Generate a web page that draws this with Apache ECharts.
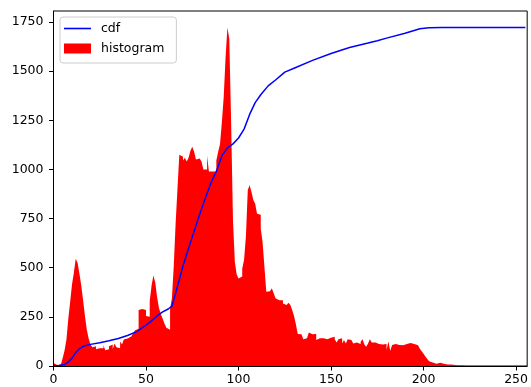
<!DOCTYPE html>
<html>
<head>
<meta charset="utf-8">
<script src="https://cdn.jsdelivr.net/npm/echarts@6/dist/echarts.min.js"></script>
<style>
  html, body { margin: 0; padding: 0; background: #fff; }
  #chart { width: 531px; height: 387px; }
</style>
</head>
<body>
<div id="chart"></div>
<script>
// pixel counts per grey level (bins 0..255)
const histogram = [
  15, 5, 3, 8, 18, 42, 80, 135, 240, 325,
  415, 475, 545, 525, 470, 410, 335, 255, 185, 140,
  110, 95, 100, 85, 90, 80, 90, 105, 80, 85,
  100, 110, 85, 115, 95, 90, 125, 110, 135, 140,
  130, 150, 160, 165, 180, 190, 285, 290, 280, 285,
  255, 250, 330, 410, 460, 425, 350, 295, 265, 240,
  215, 195, 185, 290, 345, 510, 725, 900, 1075, 1065,
  1045, 1060, 1040, 1060, 1095, 1115, 1090, 1050, 1055, 1065,
  1040, 1000, 1000, 1070, 990, 990, 985, 990, 1045, 1090,
  1130, 1240, 1370, 1570, 1722, 1665, 1240, 740, 530, 465,
  445, 455, 495, 540, 660, 895, 920, 885, 845, 825,
  775, 770, 700, 630, 505, 378, 380, 385, 395, 370,
  345, 335, 345, 335, 318, 310, 315, 322, 310, 285,
  254, 212, 163, 161, 158, 136, 141, 146, 170, 161,
  153, 163, 132, 141, 146, 141, 132, 136, 132, 144,
  153, 149, 136, 119, 136, 141, 115, 132, 115, 136,
  132, 136, 115, 120, 115, 112, 124, 136, 110, 98,
  115, 136, 120, 120, 115, 112, 112, 110, 102, 112,
  81, 125, 78, 107, 112, 112, 107, 107, 105, 107,
  112, 119, 117, 115, 112, 108, 105, 98, 88, 75,
  62, 48, 35, 24, 18, 16, 12, 14, 16, 19,
  12, 18, 8, 7, 7, 6, 5, 2, 2, 1,
  2, 8, 0, 0, 0, 0, 0, 0, 0, 0,
  0, 0, 0, 0, 0, 0, 0, 0, 0, 0,
  0, 0, 0, 0, 0, 0, 0, 0, 0, 0,
  0, 0, 0, 0, 0, 0
];

// normalised cdf, sampled along the blue line
const cdfX = [0, 3, 6, 8, 10, 12, 14, 16, 18, 20, 25, 30, 35, 40, 45, 48, 52, 56, 59, 62,
  64, 66, 68, 70, 75, 80, 85, 88, 91, 94, 97, 100, 103, 106, 109, 112, 116, 120, 125, 130,
  140, 150, 160, 170, 175, 180, 190, 198, 203, 210, 255];
const cdfY = [0, 2, 8, 20, 40, 68, 88, 100, 106, 110, 118, 128, 140, 155, 175, 195, 222, 255, 275, 290,
  305, 370, 440, 510, 658, 800, 930, 990, 1070, 1110, 1130, 1160, 1205, 1280, 1340, 1380, 1425, 1455, 1495, 1515,
  1555, 1590, 1620, 1643, 1655, 1668, 1693, 1716, 1721, 1722, 1722];

const xTicks = [0, 50, 100, 150, 200, 250];
const yTicks = [0, 250, 500, 750, 1000, 1250, 1500, 1750];

const font = 'DejaVu Sans';

// bins drawn as one stepped area: bin i covers [i, i+1]
const histData = histogram.map((v, i) => [i, v]);
histData.push([histogram.length, histogram[histogram.length - 1]]);

const chart = echarts.init(document.getElementById('chart'), null, { renderer: 'canvas' });

chart.setOption({
  animation: false,
  grid: {
    left: 53.5, top: 11, right: 1.5, bottom: 21,
    show: true, borderColor: '#000', borderWidth: 1,
  },
  legend: {
    data: [
      { name: 'cdf', icon: 'path://M0,0H27V1.6H0Z' },
      { name: 'histogram', icon: 'rect' },
    ],
    orient: 'vertical',
    left: 60, top: 17,
    padding: [5, 12, 8, 4],
    itemGap: 7,
    itemWidth: 27, itemHeight: 10,
    backgroundColor: 'rgba(255,255,255,0.8)',
    borderColor: '#cccccc', borderWidth: 1, borderRadius: 3,
    textStyle: { fontFamily: font, fontSize: 12.5, color: '#000', padding: [0, 0, 0, 5] },
  },
  xAxis: {
    type: 'value',
    min: 0, max: 256, interval: 50,
    z: 10,
    axisLine: { show: true, onZero: false, lineStyle: { color: '#000', width: 1 } },
    axisTick: { show: true, length: 4.5, lineStyle: { color: '#000' }, customValues: xTicks },
    axisLabel: {
      color: '#000', fontFamily: font, fontSize: 12.5, margin: 7,
      customValues: xTicks, formatter: v => String(v),
    },
    splitLine: { show: false },
  },
  yAxis: {
    type: 'value',
    min: 0, max: 1806, interval: 250,
    z: 10,
    axisLine: { show: true, onZero: false, lineStyle: { color: '#000', width: 1 } },
    axisTick: { show: true, length: 4.5, lineStyle: { color: '#000' }, customValues: yTicks },
    axisLabel: {
      color: '#000', fontFamily: font, fontSize: 12.5, margin: 10,
      customValues: yTicks, formatter: v => String(v),
    },
    splitLine: { show: false },
  },
  series: [
    {
      name: 'cdf',
      type: 'line',
      data: cdfX.map((x, i) => [x, cdfY[i]]),
      symbol: 'none',
      z: 5,
      lineStyle: { color: '#0000ff', width: 1.5 },
      itemStyle: { color: '#0000ff' },
    },
    {
      name: 'histogram',
      type: 'line',
      step: 'end',
      z: 2,
      symbol: 'none',
      data: histData,
      itemStyle: { color: '#ff0000' },
      lineStyle: { width: 0, color: '#ff0000' },
      areaStyle: { color: '#ff0000', opacity: 1, origin: 'start' },
    },
  ],
});
</script>
</body>
</html>
